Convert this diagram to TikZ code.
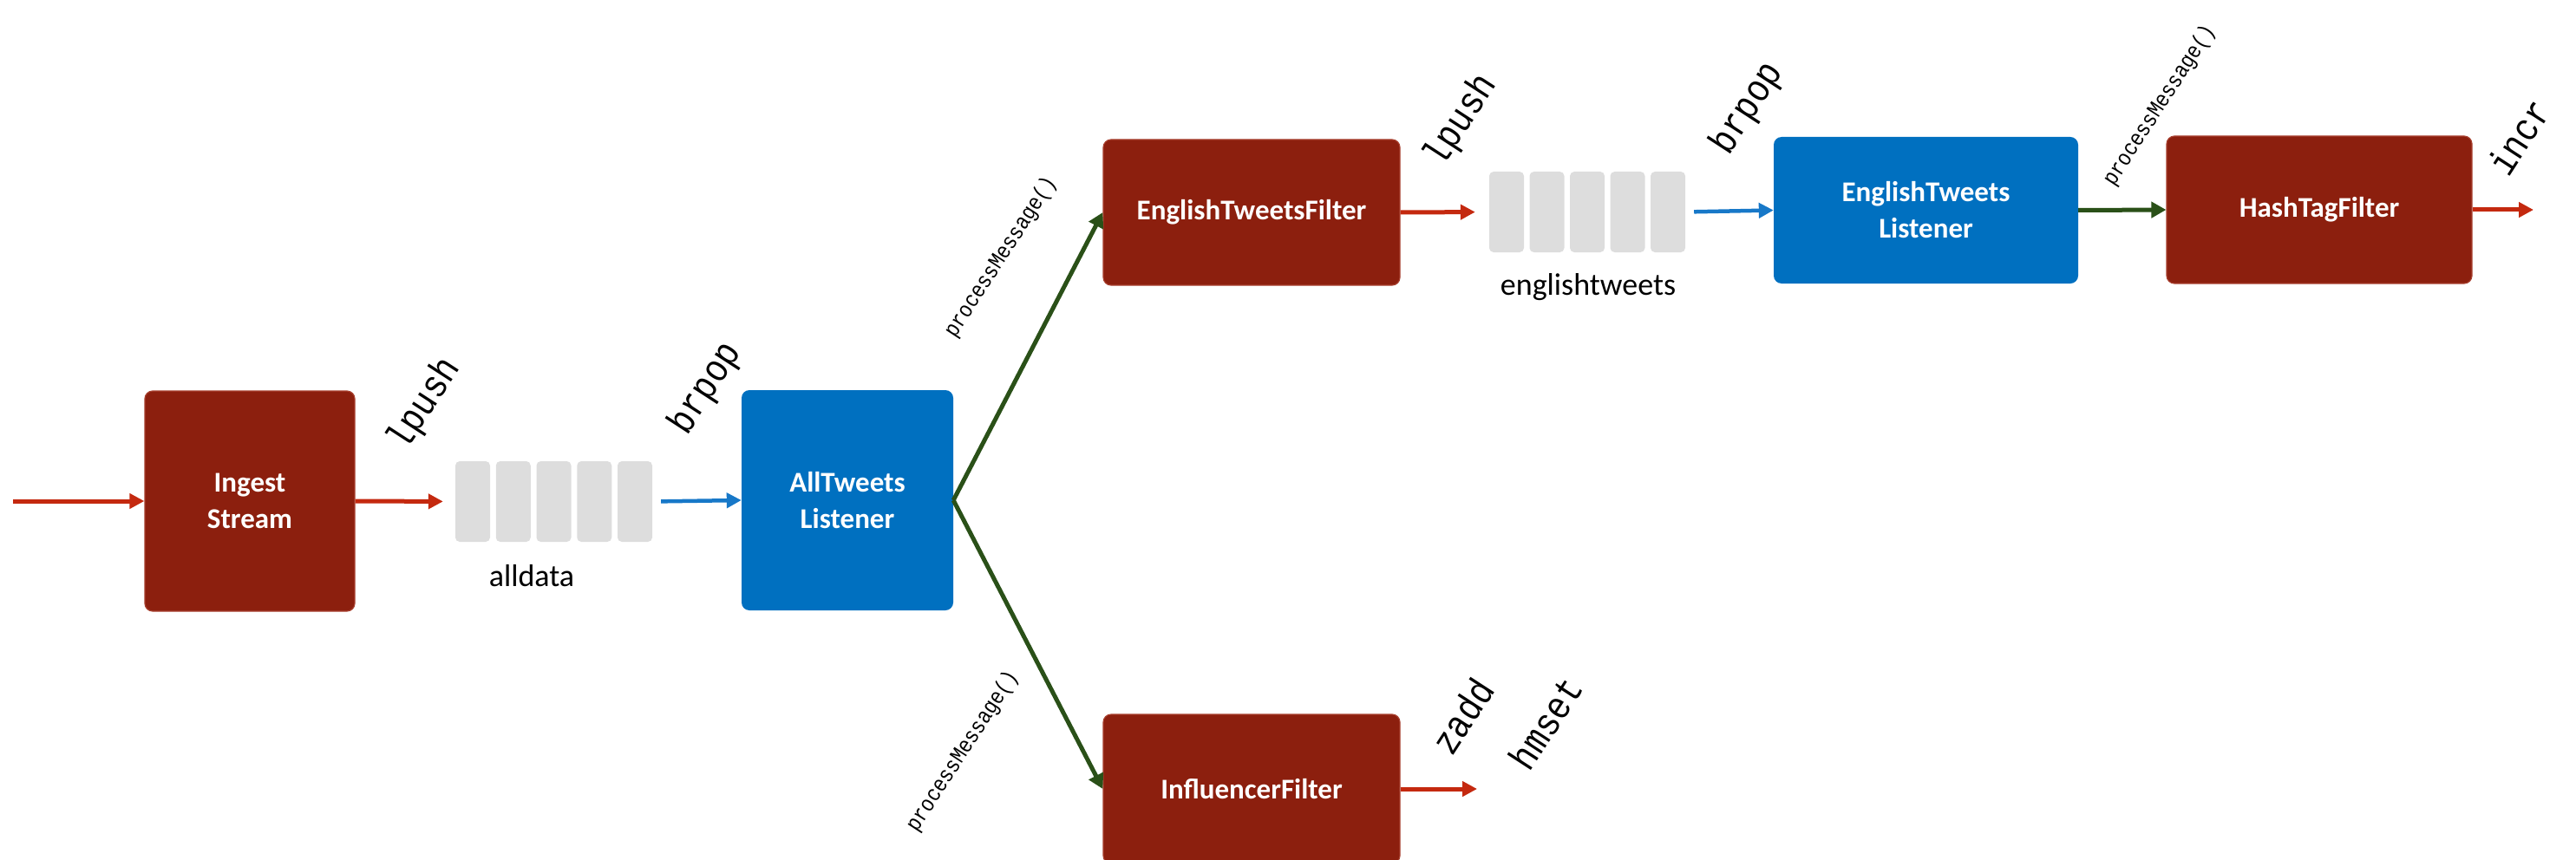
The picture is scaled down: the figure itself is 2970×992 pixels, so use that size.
\documentclass[tikz,border=0pt]{standalone}
\usepackage{fontspec}
\setmainfont{Carlito}
\newfontfamily\cmdfont[FakeStretch=0.86]{Liberation Mono}
\usetikzlibrary{arrows.meta}

\definecolor{boxred}{HTML}{8C1F0E}
\definecolor{boxredline}{HTML}{A8402F}
\definecolor{boxblue}{HTML}{0070C0}
\definecolor{arrred}{HTML}{C4290F}
\definecolor{arrgreen}{HTML}{2A5018}
\definecolor{arrblue}{HTML}{1778C8}
\definecolor{cellgray}{HTML}{DDDDDD}

\tikzset{
  procbox/.style={rectangle, rounded corners=9pt, inner sep=0pt, align=center,
    text=white, font=\bfseries\fontsize{33}{42}\selectfont},
  filterbox/.style={procbox, fill=boxred, draw=boxredline, line width=1.2pt},
  listenbox/.style={procbox, fill=boxblue},
  cell/.style={rectangle, rounded corners=5pt, fill=cellgray, inner sep=0pt,
    minimum width=40pt, minimum height=93pt},
  cmd/.style={font=\cmdfont\fontsize{45}{45}\selectfont, rotate=57, inner sep=0pt},
  callname/.style={font=\cmdfont\fontsize{26}{26}\selectfont, rotate=57, inner sep=0pt},
  qname/.style={font=\fontsize{36}{36}\selectfont, anchor=base, inner sep=0pt},
  redarrow/.style={draw=arrred, line width=5pt, -{Triangle[length=17pt,width=17pt]}},
  bluearrow/.style={draw=arrblue, line width=4.5pt, -{Triangle[length=17pt,width=17pt]}},
  greenarrow/.style={draw=arrgreen, line width=5pt, line join=round,
    -{Triangle[length=17pt,width=18pt]}},
}

\begin{document}
\begin{tikzpicture}[x=1pt,y=-1pt]
\useasboundingbox (0,0) rectangle (2970,992);

% processing stages
\node[filterbox, minimum width=242pt, minimum height=254pt] (ingest) at (288,578) {Ingest\\Stream};
\node[listenbox, minimum width=244pt, minimum height=254pt] (alltw) at (977,577) {AllTweets\\Listener};
\node[filterbox, minimum width=342pt, minimum height=168pt] (etf) at (1443,245) {EnglishTweetsFilter};
\node[listenbox, minimum width=351pt, minimum height=169pt] (etl) at (2220.5,242.5) {EnglishTweets\\Listener};
\node[filterbox, minimum width=352pt, minimum height=170pt] (htf) at (2674,242) {HashTagFilter};
\node[filterbox, minimum width=342pt, minimum height=172pt] (infl) at (1443,910) {InfluencerFilter};

% redis lists drawn as rows of cells
\foreach \i in {1,...,5} {
  \node[cell] (a\i) at ({545+46.75*(\i-1)},578.5) {};
  \node[cell] (e\i) at ({1737+46.5*(\i-1)},244.5) {};
}
\node[qname] (alldata) at (613,676) {alldata};
\node[qname] (englishtweets) at (1831,340) {englishtweets};

% free ends
\coordinate (src) at (15,578);
\coordinate (htout) at (2921,242);
\coordinate (inout) at (1703,910);

% connectors
\draw[redarrow] (src) -- (ingest.west);
\draw[redarrow, shorten >=14pt] (ingest.east) -- (a1.west);
\draw[bluearrow, shorten <=10pt] (a5.east) -- (alltw.west);
\draw[greenarrow] (alltw.east) -- (etf.west);
\draw[greenarrow] (alltw.east) -- (infl.west);
\draw[redarrow, shorten >=16pt] (etf.east) -- (e1.west);
\draw[bluearrow, shorten <=10pt] (e5.east) -- (etl.west);
\draw[greenarrow] (etl.east) -- (htf.west);
\draw[redarrow] (htf.east) -- (htout);
\draw[redarrow] (infl.east) -- (inout);

% command labels
\node[cmd] (lp1) at (490,466) {lpush};
\node[cmd] (bp1) at (814,448) {brpop};
\node[cmd] (lp2) at (1685,139) {lpush};
\node[cmd] (bp2) at (2015,125) {brpop};
\node[cmd] (incr) at (2904,158) {incr};
\node[cmd] (zadd) at (1686,826) {zadd};
\node[cmd] (hmset) at (1782,834) {hmset};
\node[callname] (pm1) at (1154,297) {processMessage()};
\node[callname] (pm2) at (1110,867) {processMessage()};
\node[callname] (pm3) at (2490,122) {processMessage()};
\end{tikzpicture}
\end{document}
